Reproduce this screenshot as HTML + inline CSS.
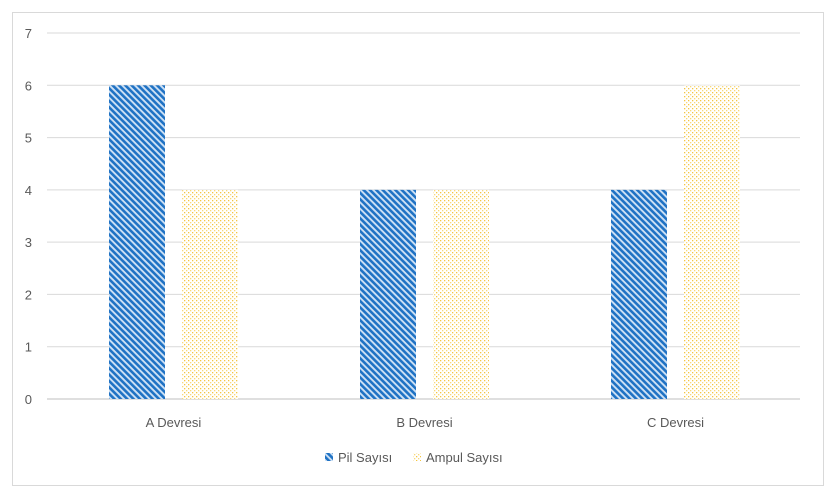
<!DOCTYPE html>
<html><head><meta charset="utf-8"><style>
body{margin:0;background:#fff;font-family:"Liberation Sans",sans-serif;}
</style></head><body>
<svg width="835" height="495" id="c" xmlns="http://www.w3.org/2000/svg">
<defs>
<pattern id="pb" width="4.5" height="4.5" patternUnits="userSpaceOnUse" patternTransform="rotate(-45)">
<rect width="4.5" height="4.5" fill="#cfe2f5"/><rect width="2.6" height="4.5" fill="#1f72c4"/></pattern>
<pattern id="py" width="4" height="4" patternUnits="userSpaceOnUse">
<rect width="4" height="4" fill="#fff"/><rect x="0" y="0" width="1.3" height="1.3" fill="#f4c542"/><rect x="2" y="2" width="1.3" height="1.3" fill="#f8d87a"/></pattern>
</defs>
<rect x="12.5" y="12.5" width="811" height="473" fill="#fff" stroke="#d9d9d9"/>
<g id="g"></g>
</svg>
<script>
const categories=["A Devresi","B Devresi","C Devresi"];
const pil=[6,4,4];
const ampul=[4,4,6];
const ticks=[0,1,2,3,4,5,6,7];
const NS="http://www.w3.org/2000/svg",g=document.getElementById('g');
const x0=48,x1=801,yb=399,yt=33,ymax=7;
const y=v=>yb-(yb-yt)*v/ymax;
const cw=(x1-x0)/categories.length;
function el(t,a,txt){const e=document.createElementNS(NS,t);for(const k in a)e.setAttribute(k,a[k]);if(txt!=null)e.textContent=txt;g.appendChild(e);return e;}
ticks.forEach(t=>{
const l=el('line',{x1:x0-1,x2:x1-1,y1:y(t),y2:y(t),stroke:t===0?'#bfbfbf':'#d9d9d9'});


const s=el('text',{x:32,y:y(t)+5,'text-anchor':'end','font-size':13,fill:'#595959'},t);


});
categories.forEach((c,i)=>{
const cx=x0+cw*(i+0.5),bw=56,gap=17;
const b=el('rect',{x:cx-gap/2-bw,y:y(pil[i]),width:bw,height:yb-y(pil[i]),fill:'url(#pb)'});


const a=el('rect',{x:cx+gap/2,y:y(ampul[i]),width:bw,height:yb-y(ampul[i]),fill:'url(#py)'});


const t=el('text',{x:cx,y:427,'text-anchor':'middle','font-size':13,fill:'#595959'},c);


});
let r=el('rect',{x:325,y:453,width:8,height:8,fill:'url(#pb)'});


let t=el('text',{x:338,y:462,'font-size':13,fill:'#595959'},'Pil Sayısı');


r=el('rect',{x:413,y:453,width:8,height:8,fill:'url(#py)'});


t=el('text',{x:426,y:462,'font-size':13,fill:'#595959'},'Ampul Sayısı');


</script>
</body></html>
